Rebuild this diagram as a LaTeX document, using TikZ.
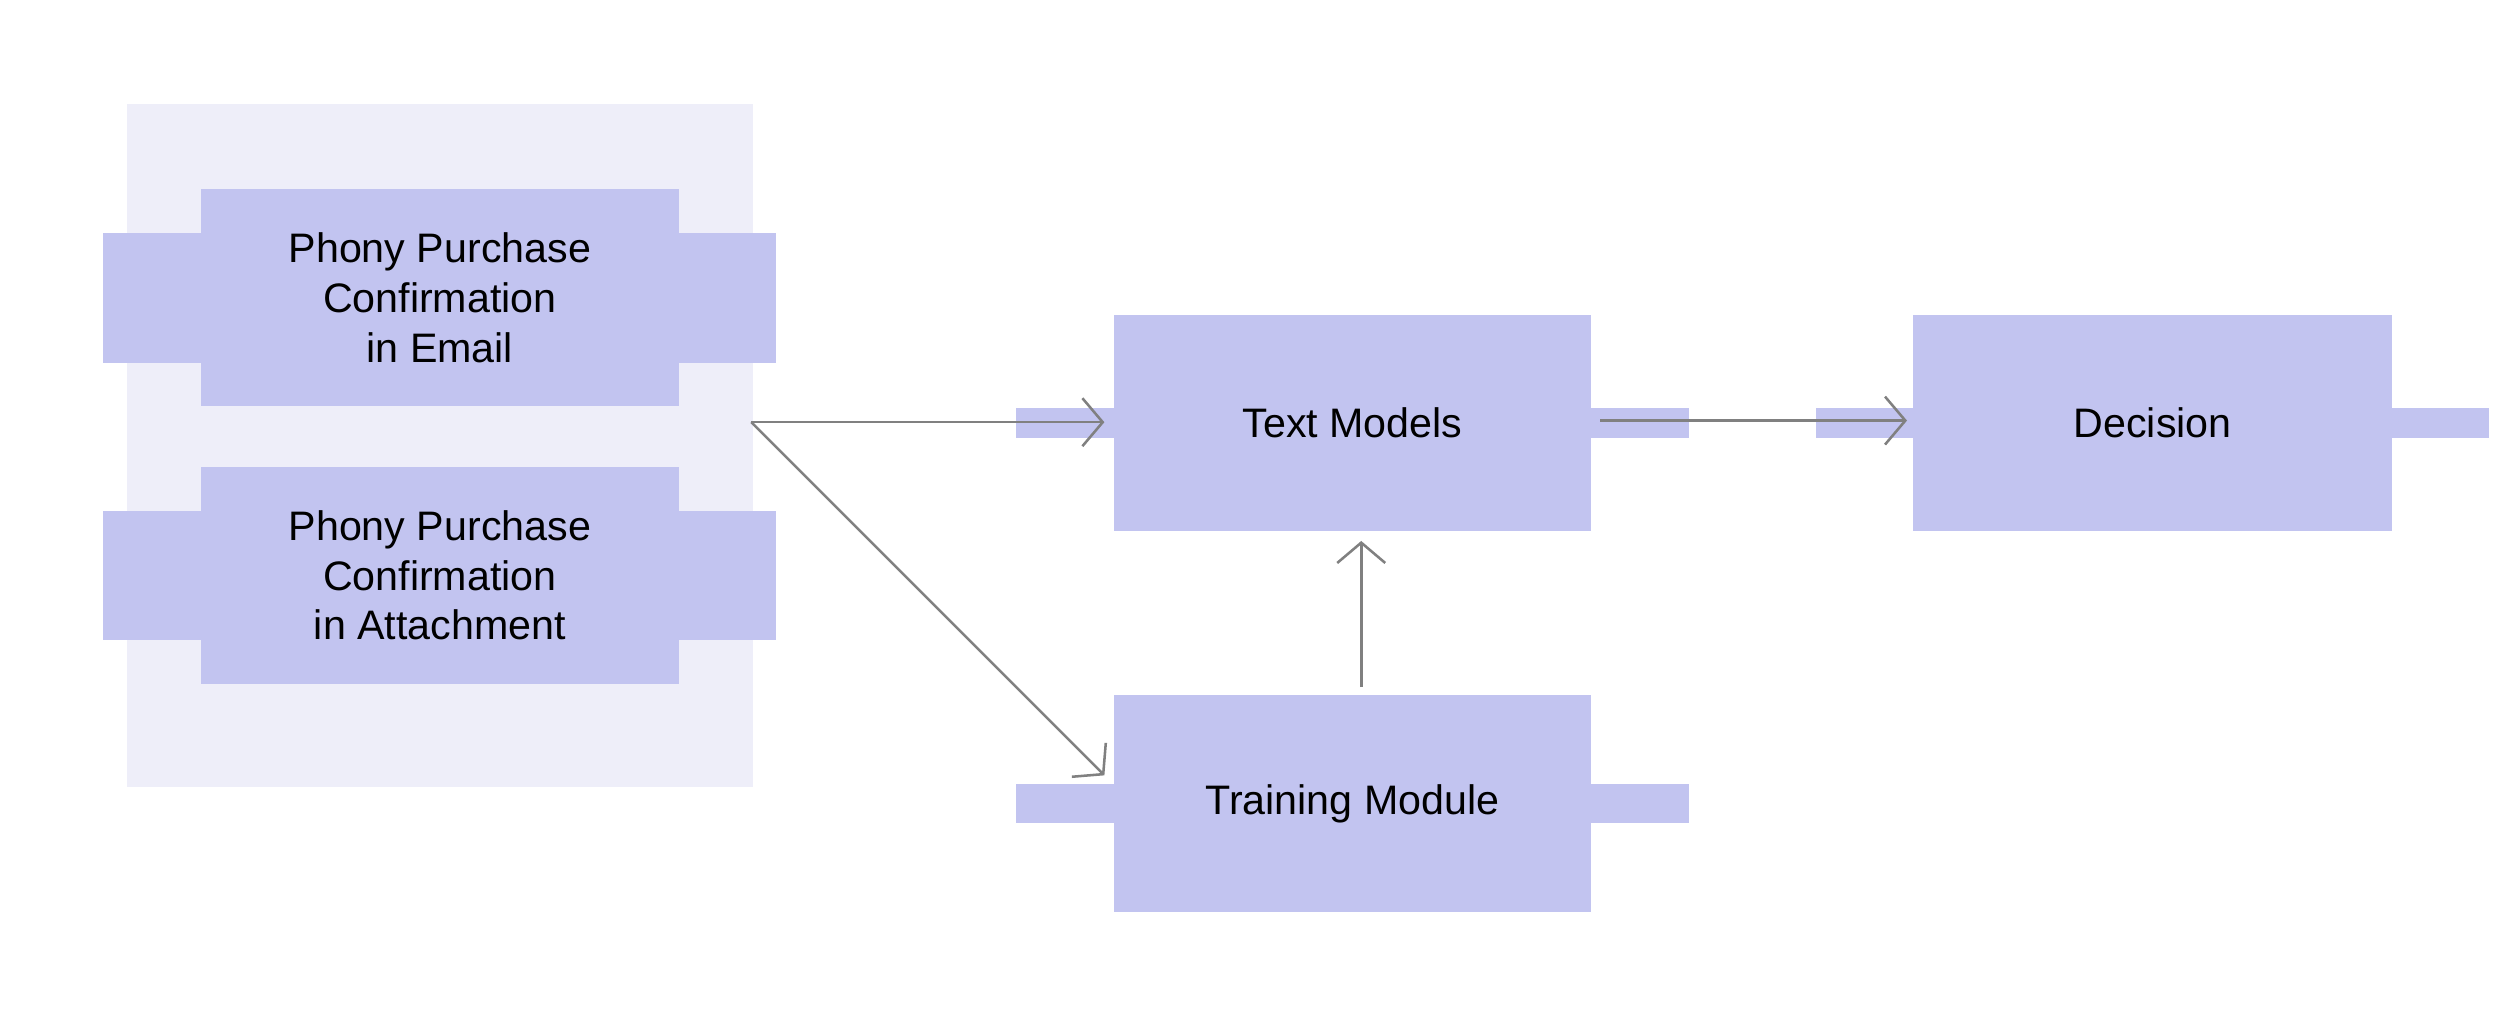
\documentclass[tikz,border=0pt]{standalone}
\usepackage{fontspec}
\setmainfont{Liberation Sans}
\usetikzlibrary{arrows.meta}
\definecolor{boxc}{HTML}{C2C4F0}
\definecolor{grpc}{HTML}{EEEEF9}
\definecolor{arrc}{HTML}{808080}
\begin{document}
\begin{tikzpicture}[x=0.01cm,y=-0.01cm,
  box/.style={fill=boxc,draw=none,minimum width=298\pgflinewidth,inner sep=0pt,align=center,font=\fontsize{7.3}{8.8}\selectfont},
  conn/.style={draw=arrc,line width=0.45pt,-{Straight Barb[length=3.6pt,width=8.5pt,line width=0.45pt]}}]
\useasboundingbox (0,0) rectangle (1568,632);
\fill[grpc] (79,65) rectangle (469,490);
\fill[boxc] (125,118) rectangle (423,253);
\node[box] (b1) at (274,185.5) {Phony Purchase\\Confirmation\\in Email};
\fill[boxc] (125,291) rectangle (423,426);
\node[box] (b2) at (274,358.5) {Phony Purchase\\Confirmation\\in Attachment};
\fill[boxc] (694,196) rectangle (991,331);
\node[box] (tm) at (842.5,263.5) {Text Models};
\fill[boxc] (1192,196) rectangle (1490,331);
\node[box] (dec) at (1341,263.5) {Decision};
\fill[boxc] (694,433) rectangle (991,568);
\node[box] (tr) at (842.5,500.5) {Training Module};
\coordinate (s) at (468,263);
\coordinate (tmin) at (688,263);
\coordinate (trin) at (688,483);
\coordinate (tmout) at (997,262);
\coordinate (decin) at (1188,262);
\coordinate (trout) at (848,428);
\coordinate (tmbot) at (848,337);
\draw[conn] (s) -- (tmin);
\draw[conn] (s) -- (trin);
\draw[conn] (tmout) -- (decin);
\draw[conn] (trout) -- (tmbot);
\end{tikzpicture}
\end{document}
